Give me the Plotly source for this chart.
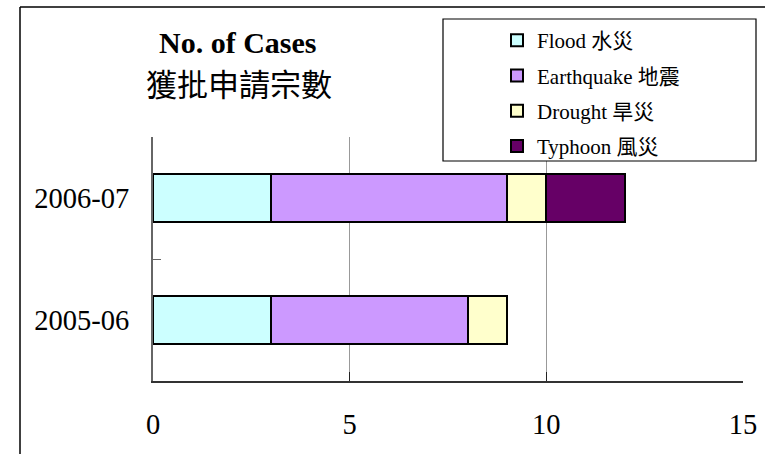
import plotly.graph_objects as go

years = ["2005-06", "2006-07"]
series_names = ["Flood 水災", "Earthquake 地震", "Drought 旱災", "Typhoon 風災"]
flood = [3, 3]
earthquake = [5, 6]
drought = [1, 1]
typhoon = [0, 2]
colors = ["#CCFFFF", "#CC99FF", "#FFFFCC", "#660066"]
x_ticks = [0, 5, 10, 15]

W, H = 765, 454

def px(x):
    return x / W

def py(y):
    return (H - y) / H

serif = "Liberation Serif, Noto Sans CJK TC"
fig = go.Figure()
for name, vals, col in zip(series_names, [flood, earthquake, drought, typhoon], colors):
    fig.add_trace(go.Bar(
        y=years, x=vals, name=name, orientation="h", legendgroup=name,
        marker=dict(color=col, line=dict(color="black", width=2)),
    ))

fig.update_layout(
    width=W, height=H, barmode="stack", bargap=0.6,
    margin=dict(l=0, r=0, t=0, b=0, autoexpand=False),
    paper_bgcolor="white", plot_bgcolor="white",
    font=dict(family=serif, color="black"),
    showlegend=True,
    legend=dict(
        x=px(497), y=py(20), xanchor="left", yanchor="top",
        bgcolor="rgba(0,0,0,0)", borderwidth=0,
        font=dict(family=serif, size=21, color="black"),
        traceorder="grouped", tracegroupgap=5,
    ),
    xaxis=dict(
        domain=[px(153), px(743)],
        range=[0, 15], tickvals=x_ticks, showgrid=True, gridcolor="#999999", gridwidth=1,
        showline=True, linecolor="#333333", linewidth=2, zeroline=False,
        ticks="inside", ticklen=9, tickcolor="#222222",
        tickfont=dict(family=serif, size=28.5), ticklabelstandoff=17,
    ),
    yaxis=dict(
        domain=[py(381), py(137)],
        type="category", categoryarray=years, showgrid=False,
        showline=True, linecolor="#666666", linewidth=2, zeroline=False,
        ticks="inside", ticklen=8, tickcolor="#666666", tickson="boundaries",
        tickfont=dict(family=serif, size=28.5), ticklabelstandoff=16,
    ),
)

shapes = [
    dict(type="line", xref="paper", yref="paper", x0=px(20), x1=1.0, y0=py(7), y1=py(7),
         line=dict(color="black", width=1.5)),
    dict(type="line", xref="paper", yref="paper", x0=px(20), x1=px(20), y0=py(7), y1=0,
         line=dict(color="black", width=1.5)),
    dict(type="rect", xref="paper", yref="paper", x0=px(443), x1=px(756), y0=py(161), y1=py(19),
         fillcolor="white", line=dict(color="black", width=1.2), layer="above"),
]
fig.update_layout(shapes=shapes)

fig.add_annotation(text="<b>No. of Cases</b>", xref="paper", yref="paper", x=px(238), y=py(43),
                   xanchor="center", yanchor="middle",
                   showarrow=False, font=dict(family="Liberation Serif", size=30, color="black"))
fig.add_annotation(text="獲批申請宗數", xref="paper", yref="paper", x=px(239), y=py(83),
                   xanchor="center", yanchor="middle",
                   showarrow=False, font=dict(family="Noto Sans CJK TC", size=31, color="black"))

fig.write_html("out.html", config={"displayModeBar": False},
               post_script="document.body.style.margin='0';document.body.style.overflow='hidden';")
